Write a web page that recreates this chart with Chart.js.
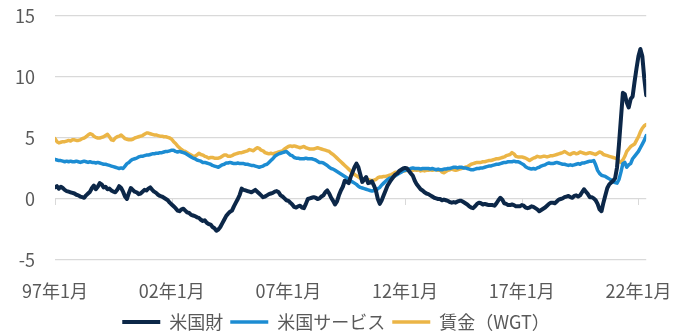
<!DOCTYPE html>
<html lang="ja">
<head>
<meta charset="utf-8">
<title>米国財・サービス・賃金</title>
<script src="https://cdn.jsdelivr.net/npm/chart.js@4.4.8/dist/chart.umd.min.js"></script>
<style>
  html, body { margin: 0; padding: 0; background: #fff; }
  #wrap { width: 692px; height: 332px; position: relative; }
</style>
</head>
<body>
<div id="wrap"><canvas id="chart"></canvas></div>
<script>
// monthly, 1997-01 .. 2022-05 (YoY %)
const START_YEAR = 1997;
const END_YEAR = 2022;
const END_MONTH = 5;

const goods = [
  0.95, 1.05, 0.85, 1.0, 0.9, 0.75, 0.65, 0.6, 0.55, 0.5, 0.45, 0.35,
  0.3, 0.2, 0.15, 0.1, 0.3, 0.45, 0.6, 0.9, 1.1, 0.8, 1.0, 1.3,
  1.2, 0.95, 1.0, 0.8, 0.85, 0.7, 0.6, 0.55, 0.75, 1.05, 0.9, 0.6,
  0.2, 0.0, 0.5, 0.9, 0.75, 0.6, 0.55, 0.4, 0.45, 0.6, 0.75, 0.7,
  0.85, 0.95, 0.75, 0.6, 0.5, 0.35, 0.25, 0.2, 0.1, 0.0, -0.1, -0.3,
  -0.45, -0.6, -0.75, -0.95, -1.0, -0.85, -0.8, -0.95, -1.1, -1.15, -1.3, -1.35,
  -1.4, -1.5, -1.55, -1.7, -1.8, -1.75, -1.95, -2.05, -2.1, -2.3, -2.4, -2.6,
  -2.5, -2.3, -2.0, -1.7, -1.4, -1.2, -1.05, -0.95, -0.6, -0.3, 0.0, 0.35,
  0.85, 0.75, 0.7, 0.65, 0.6, 0.55, 0.65, 0.75, 0.6, 0.45, 0.3, 0.15,
  0.2, 0.3, 0.4, 0.45, 0.5, 0.6, 0.65, 0.55, 0.3, 0.2, 0.05, -0.1,
  -0.15, -0.3, -0.45, -0.65, -0.7, -0.6, -0.55, -0.7, -0.75, -0.4, 0.0, 0.05,
  0.1, 0.15, 0.1, 0.0, 0.05, 0.2, 0.3, 0.55, 0.7, 0.45, 0.1, -0.15,
  -0.45, -0.2, 0.3, 0.7, 1.0, 1.5, 1.4, 1.3, 1.8, 2.2, 2.6, 2.9,
  2.6, 2.0, 1.4, 1.6, 1.8, 1.3, 1.35, 1.45, 1.1, 0.7, 0.0, -0.4,
  -0.1, 0.3, 0.7, 1.1, 1.35, 1.6, 1.8, 2.0, 2.1, 2.3, 2.4, 2.5,
  2.55, 2.5, 2.3, 2.1, 1.9, 1.5, 1.2, 1.0, 0.8, 0.7, 0.55, 0.45,
  0.4, 0.3, 0.2, 0.1, 0.05, 0.0, 0.0, -0.1, -0.05, -0.1, -0.15, -0.25,
  -0.3, -0.25, -0.3, -0.2, -0.15, -0.15, -0.25, -0.35, -0.45, -0.6, -0.7, -0.75,
  -0.6, -0.4, -0.3, -0.35, -0.45, -0.4, -0.45, -0.5, -0.5, -0.5, -0.55, -0.35,
  -0.1, 0.1, -0.05, -0.35, -0.4, -0.5, -0.5, -0.45, -0.5, -0.6, -0.6, -0.6,
  -0.5, -0.55, -0.7, -0.75, -0.7, -0.6, -0.65, -0.75, -0.85, -1.0, -0.9, -0.8,
  -0.7, -0.55, -0.4, -0.3, -0.3, -0.35, -0.2, -0.05, 0.0, 0.05, 0.15, 0.2,
  0.25, 0.15, 0.1, 0.25, 0.3, 0.2, 0.3, 0.55, 0.8, 0.6, 0.4, 0.15,
  0.15, 0.05, -0.1, -0.4, -0.85, -1.0, -0.3, 0.3, 0.9, 1.2, 1.35, 1.5,
  1.7, 2.6, 4.5, 6.6, 8.7, 8.6, 7.9, 7.5, 8.2, 8.4, 9.6, 10.7,
  11.7, 12.3, 11.7, 9.9, 8.5
];

const services = [
  3.25, 3.2, 3.15, 3.15, 3.1, 3.05, 3.1, 3.05, 3.1, 3.05, 3.05, 3.1,
  3.05, 3.0, 3.05, 3.1, 3.05, 3.0, 3.05, 3.0, 3.0, 2.95, 3.0, 2.95,
  2.9, 2.85, 2.85, 2.8, 2.75, 2.7, 2.65, 2.6, 2.55, 2.5, 2.55, 2.5,
  2.7, 2.9, 3.0, 3.15, 3.25, 3.3, 3.35, 3.45, 3.5, 3.5, 3.55, 3.6,
  3.6, 3.65, 3.7, 3.7, 3.75, 3.75, 3.8, 3.8, 3.85, 3.9, 3.9, 3.95,
  4.0, 4.0, 3.9, 3.85, 3.9, 3.85, 3.8, 3.75, 3.65, 3.55, 3.45, 3.35,
  3.3, 3.2, 3.15, 3.1, 3.0, 3.0, 2.95, 2.9, 2.85, 2.75, 2.7, 2.65,
  2.6, 2.7, 2.8, 2.85, 2.95, 2.95, 3.0, 2.95, 2.9, 2.9, 2.95, 2.9,
  2.9, 2.9, 2.85, 2.85, 2.8, 2.75, 2.75, 2.7, 2.65, 2.6, 2.65, 2.7,
  2.8, 2.85, 3.0, 3.15, 3.3, 3.5, 3.6, 3.7, 3.75, 3.8, 3.85, 3.9,
  3.75, 3.6, 3.55, 3.4, 3.35, 3.35, 3.3, 3.3, 3.3, 3.35, 3.3, 3.3,
  3.3, 3.25, 3.2, 3.1, 3.0, 3.0, 2.95, 2.85, 2.75, 2.6, 2.5, 2.45,
  2.35, 2.25, 2.15, 2.05, 1.95, 1.85, 1.75, 1.6, 1.5, 1.4, 1.3, 1.2,
  1.05, 0.95, 0.9, 0.85, 0.8, 0.75, 0.7, 0.65, 0.7, 0.7, 0.85, 0.95,
  1.15, 1.3, 1.45, 1.6, 1.7, 1.75, 1.85, 1.9, 2.0, 2.1, 2.2, 2.3,
  2.35, 2.4, 2.45, 2.5, 2.55, 2.5, 2.5, 2.5, 2.45, 2.5, 2.5, 2.5,
  2.5, 2.45, 2.5, 2.45, 2.4, 2.45, 2.4, 2.4, 2.45, 2.45, 2.5, 2.5,
  2.55, 2.6, 2.6, 2.55, 2.6, 2.6, 2.55, 2.55, 2.5, 2.45, 2.4, 2.4,
  2.45, 2.5, 2.5, 2.55, 2.55, 2.6, 2.65, 2.7, 2.7, 2.75, 2.8, 2.85,
  2.85, 2.9, 2.95, 3.0, 3.0, 3.05, 3.05, 3.05, 3.1, 3.05, 3.05, 3.0,
  2.9, 2.8, 2.65, 2.55, 2.5, 2.45, 2.5, 2.45, 2.55, 2.6, 2.7, 2.75,
  2.8, 2.9, 2.95, 2.9, 2.9, 2.95, 3.0, 2.95, 2.9, 2.85, 2.85, 2.8,
  2.75, 2.8, 2.75, 2.8, 2.85, 2.9, 2.85, 2.95, 2.95, 3.0, 3.05, 3.1,
  3.1, 3.15, 2.8, 2.35, 2.1, 1.95, 1.9, 1.85, 1.75, 1.65, 1.55, 1.4,
  1.35, 1.3, 1.6, 2.2, 2.9, 3.0, 2.6, 2.8, 2.9, 3.3, 3.5, 3.7,
  3.9, 4.2, 4.5, 4.8, 5.2
];

const wages = [
  4.95, 4.7, 4.6, 4.65, 4.7, 4.7, 4.75, 4.8, 4.75, 4.85, 4.85, 4.8,
  4.8, 4.85, 4.95, 5.0, 5.1, 5.25, 5.35, 5.3, 5.15, 5.05, 5.0, 5.0,
  5.05, 5.1, 5.2, 5.3, 5.1, 4.85, 4.8, 5.0, 5.1, 5.15, 5.25, 5.1,
  4.95, 4.9, 4.85, 4.85, 4.9, 5.0, 5.05, 5.1, 5.15, 5.2, 5.3, 5.4,
  5.4, 5.35, 5.3, 5.25, 5.25, 5.2, 5.15, 5.15, 5.1, 5.1, 5.05, 5.0,
  4.9, 4.7, 4.55, 4.35, 4.2, 4.05, 3.95, 3.9, 3.8, 3.7, 3.6, 3.5,
  3.5, 3.6, 3.75, 3.65, 3.6, 3.5, 3.45, 3.35, 3.4, 3.4, 3.35, 3.35,
  3.35, 3.4, 3.5, 3.6, 3.6, 3.5, 3.5, 3.55, 3.65, 3.7, 3.75, 3.8,
  3.8, 3.85, 3.9, 3.95, 4.05, 4.0, 3.95, 4.1, 4.2, 4.15, 4.0, 3.95,
  3.8, 3.75, 3.7, 3.75, 3.7, 3.75, 3.8, 3.85, 3.9, 3.95, 4.1, 4.2,
  4.3, 4.35, 4.3, 4.35, 4.3, 4.25, 4.2, 4.25, 4.3, 4.2, 4.15, 4.1,
  4.1, 4.1, 4.15, 4.2, 4.15, 4.1, 4.05, 4.0, 3.95, 3.9, 3.75, 3.65,
  3.5, 3.35, 3.2, 3.05, 2.9, 2.75, 2.6, 2.45, 2.3, 2.15, 2.0, 1.9,
  1.8, 1.7, 1.65, 1.6, 1.55, 1.6, 1.55, 1.5, 1.55, 1.6, 1.75, 1.8,
  1.8, 1.85, 1.85, 1.9, 1.95, 2.0, 2.1, 2.2, 2.2, 2.25, 2.25, 2.3,
  2.3, 2.35, 2.35, 2.4, 2.35, 2.4, 2.35, 2.4, 2.3, 2.35, 2.3, 2.35,
  2.35, 2.4, 2.35, 2.4, 2.4, 2.35, 2.4, 2.2, 2.15, 2.25, 2.35, 2.4,
  2.45, 2.4, 2.35, 2.4, 2.45, 2.5, 2.55, 2.6, 2.65, 2.75, 2.85, 2.9,
  2.95, 3.0, 3.0, 3.0, 3.05, 3.05, 3.1, 3.15, 3.15, 3.2, 3.25, 3.3,
  3.3, 3.35, 3.4, 3.45, 3.55, 3.6, 3.65, 3.8, 3.7, 3.5, 3.45, 3.45,
  3.45, 3.4, 3.35, 3.25, 3.15, 3.25, 3.35, 3.4, 3.5, 3.45, 3.45, 3.5,
  3.5, 3.45, 3.5, 3.55, 3.55, 3.6, 3.65, 3.7, 3.75, 3.8, 3.9, 3.8,
  3.7, 3.65, 3.75, 3.8, 3.7, 3.75, 3.85, 3.8, 3.75, 3.7, 3.75, 3.8,
  3.75, 3.7, 3.65, 3.75, 3.85, 3.8, 3.65, 3.6, 3.55, 3.5, 3.45, 3.4,
  3.35, 3.3, 3.1, 3.0, 3.2, 3.5, 3.9, 4.1, 4.3, 4.4, 4.5, 4.8,
  5.1, 5.5, 5.8, 6.0, 6.1
];

const seriesLabels = ["米国財", "米国サービス", "賃金（WGT）"];
const tickMonths = ["1997-01", "2002-01", "2007-01", "2012-01", "2017-01", "2022-01"];
const tickLabels = ["97年1月", "02年1月", "07年1月", "12年1月", "17年1月", "22年1月"];
const yTicks = [-5, 0, 5, 10, 15];

const COLORS = {
  goods: "#0c2748",
  services: "#1c8cd2",
  wages: "#ebb546",
  grid: "#d9d9d9",
  text: "#595959",
};
const FONT = "'Noto Sans CJK JP', 'Noto Sans', sans-serif";

const months = [];
for (let y = START_YEAR; y <= END_YEAR; y++) {
  for (let m = 1; m <= 12; m++) {
    if (y === END_YEAR && m > END_MONTH) break;
    months.push(`${y}-${String(m).padStart(2, "0")}`);
  }
}
const tickIndex = tickMonths.map((m) => months.indexOf(m));

function points(values) {
  return values.map((v, i) => ({ x: i, y: v }));
}

function lineDataset(label, values, color, width) {
  return {
    label,
    data: points(values),
    borderColor: color,
    backgroundColor: color,
    borderWidth: width,
    pointRadius: 0,
    pointHoverRadius: 0,
    tension: 0,
    fill: false,
    borderCapStyle: "round",
    borderJoinStyle: "round",
  };
}

// small tick marks hanging from the zero line
const zeroTicks = {
  id: "zeroTicks",
  beforeDatasetsDraw(chart) {
    const { ctx, scales } = chart;
    const y0 = scales.y.getPixelForValue(0);
    ctx.save();
    ctx.strokeStyle = COLORS.grid;
    ctx.lineWidth = 1;
    tickIndex.forEach((i) => {
      const x = Math.round(scales.x.getPixelForValue(i)) + 0.5;
      ctx.beginPath();
      ctx.moveTo(x, y0);
      ctx.lineTo(x, y0 + 6);
      ctx.stroke();
    });
    ctx.restore();
  },
};

// legend sits a little right of the canvas centre
const legendNudge = {
  id: "legendNudge",
  afterLayout(chart) {
    if (!chart.legend) return;
    chart.legend.left += 9;
    chart.legend.right += 9;
  },
};

new Chart(document.getElementById("chart"), {
  type: "line",
  data: {
    datasets: [
      lineDataset(seriesLabels[0], goods, COLORS.goods, 4),
      lineDataset(seriesLabels[1], services, COLORS.services, 3.5),
      lineDataset(seriesLabels[2], wages, COLORS.wages, 3.5),
    ],
  },
  options: {
    responsive: true,
    maintainAspectRatio: false,
    animation: false,
    events: [],
    layout: { padding: { left: 6, right: 44, top: 16, bottom: -9 } },
    plugins: {
      tooltip: { enabled: false },
      legend: {
        position: "bottom",
        align: "center",
        labels: {
          color: COLORS.text,
          font: { size: 18, family: FONT },
          usePointStyle: true,
          pointStyle: "line",
          pointStyleWidth: 38,
          padding: 7,
        },
      },
    },
    scales: {
      x: {
        type: "linear",
        min: 0,
        max: months.length - 1,
        grid: { display: false, drawTicks: false },
        border: { display: false },
        afterBuildTicks(scale) {
          scale.ticks = tickIndex.map((v) => ({ value: v }));
        },
        afterFit(scale) {
          scale.height = 46;
        },
        ticks: {
          autoSkip: false,
          maxRotation: 0,
          padding: 20,
          color: COLORS.text,
          font: { size: 18, family: FONT },
          callback(value) {
            const k = tickIndex.indexOf(value);
            return k >= 0 ? tickLabels[k] : "";
          },
        },
      },
      y: {
        min: yTicks[0],
        max: yTicks[yTicks.length - 1],
        grid: { color: COLORS.grid, lineWidth: 1.3, drawTicks: false },
        border: { display: false },
        afterBuildTicks(scale) {
          scale.ticks = yTicks.map((v) => ({ value: v }));
        },
        afterFit(scale) {
          scale.width = 49;
          scale.paddingTop = 10;
          scale.paddingBottom = 10;
        },
        ticks: {
          padding: 20,
          color: COLORS.text,
          font: { size: 18, family: FONT },
        },
      },
    },
  },
  plugins: [zeroTicks, legendNudge],
});
</script>
</body>
</html>
